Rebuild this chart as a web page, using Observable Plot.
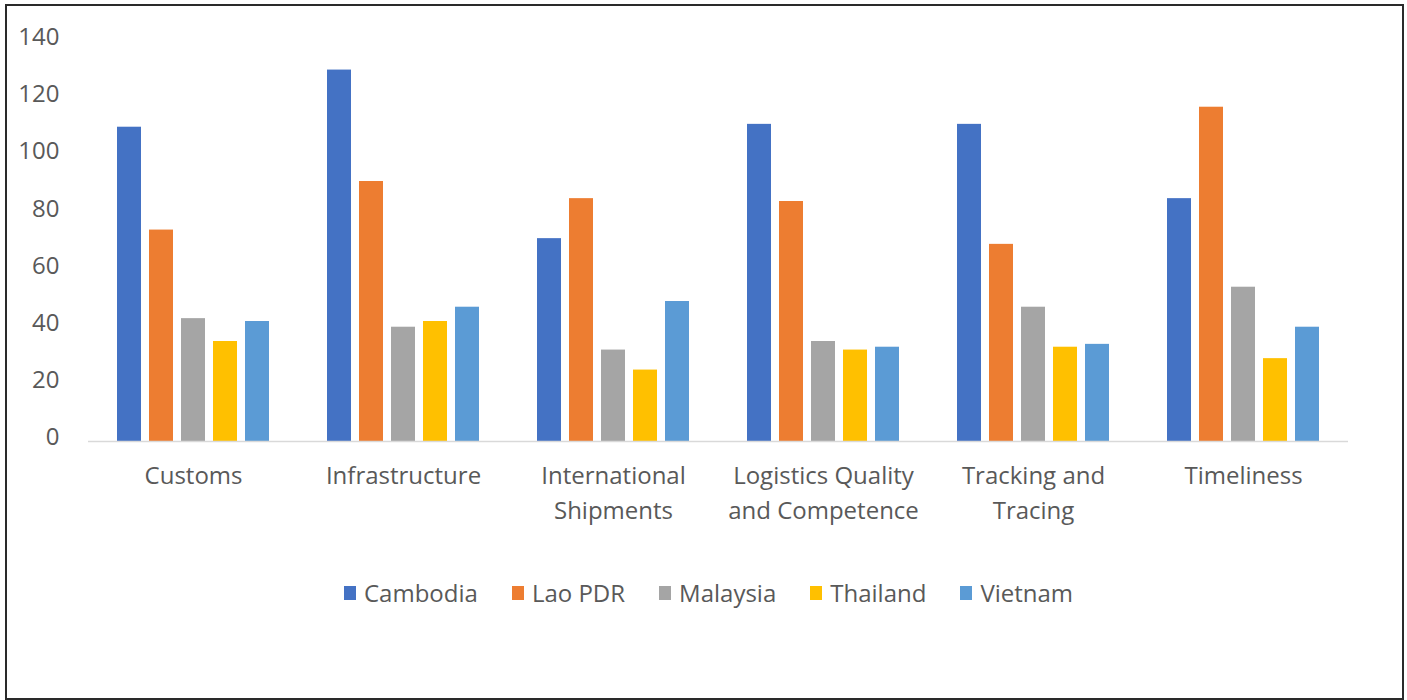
<!DOCTYPE html>
<html>
<head>
<meta charset="utf-8">
<script src="https://cdn.jsdelivr.net/npm/d3@7"></script>
<script src="https://cdn.jsdelivr.net/npm/@observablehq/plot@0.6"></script>
<style>
  html, body { margin: 0; padding: 0; background: #fff; }
  #wrap { position: relative; width: 1407px; height: 700px; overflow: hidden; background: #fff; }
  #frame { position: absolute; left: 5px; top: 4px; width: 1395px; height: 692px; border: 2px solid #2a2a2a; }
  #chart { position: absolute; left: 0; top: 0; }
  #legend { position: absolute; left: 344px; top: 576px; }
  .lg-swatch { margin-right: 34px !important; }
  .lg-swatch svg { margin-right: 8px !important; }
</style>
</head>
<body>
<div id="wrap">
  <div id="frame"></div>
  <div id="chart"></div>
  <div id="legend"></div>
</div>
<script>
const categories = ["Customs", "Infrastructure", "International Shipments", "Logistics Quality and Competence", "Tracking and Tracing", "Timeliness"];
const categoryLabels = ["Customs", "Infrastructure", "International\nShipments", "Logistics Quality\nand Competence", "Tracking and\nTracing", "Timeliness"];
const countries = ["Cambodia", "Lao PDR", "Malaysia", "Thailand", "Vietnam"];
const colors = ["#4472C4", "#ED7D31", "#A5A5A5", "#FFC000", "#5B9BD5"];
const cambodia = [110, 130, 71, 111, 111, 85];
const laoPDR   = [74, 91, 85, 84, 69, 117];
const malaysia = [43, 40, 32, 35, 47, 54];
const thailand = [35, 42, 25, 32, 33, 29];
const vietnam  = [42, 47, 49, 33, 34, 40];
const yTicks = [0, 20, 40, 60, 80, 100, 120, 140];

const series = [cambodia, laoPDR, malaysia, thailand, vietnam];
const rows = [];
categories.forEach((cat, i) => {
  countries.forEach((c, j) => rows.push({category: cat, country: c, value: series[j][i]}));
});
const labelOf = new Map(categories.map((c, i) => [c, categoryLabels[i]]));
const font = "'Open Sans', 'DejaVu Sans', sans-serif";

const chart = Plot.plot({
  width: 1407,
  height: 545,
  marginLeft: 86,
  marginRight: 57,
  marginTop: 41,
  marginBottom: 104,
  style: {fontFamily: font, fontSize: "24px", color: "#595959", background: "transparent"},
  fx: {domain: categories, padding: 0},
  x: {domain: countries, paddingInner: 0.25, paddingOuter: 0.88, axis: null},
  y: {domain: [0, 140]},
  color: {domain: countries, range: colors},
  marks: [
    Plot.barY(rows, {fx: "category", x: "country", y: "value", fill: "country"}),
    Plot.ruleY([0], {stroke: "#d9d9d9", strokeWidth: 1.5}),
    Plot.axisY({ticks: yTicks, tickSize: 0, tickPadding: 29, dy: -4, fontSize: 24, label: null}),
    Plot.axisFx({anchor: "bottom", tickSize: 0, tickPadding: 18, lineHeight: 1.46, fontSize: 24, label: null, tickFormat: d => labelOf.get(d)})
  ]
});
document.getElementById("chart").appendChild(chart);

const legend = Plot.legend({
  color: {domain: countries, range: colors},
  legend: "swatches",
  swatchWidth: 12,
  swatchHeight: 14,
  className: "lg",
  style: {fontFamily: font, fontSize: "24px", color: "#595959"}
});
document.getElementById("legend").appendChild(legend);
</script>
</body>
</html>
